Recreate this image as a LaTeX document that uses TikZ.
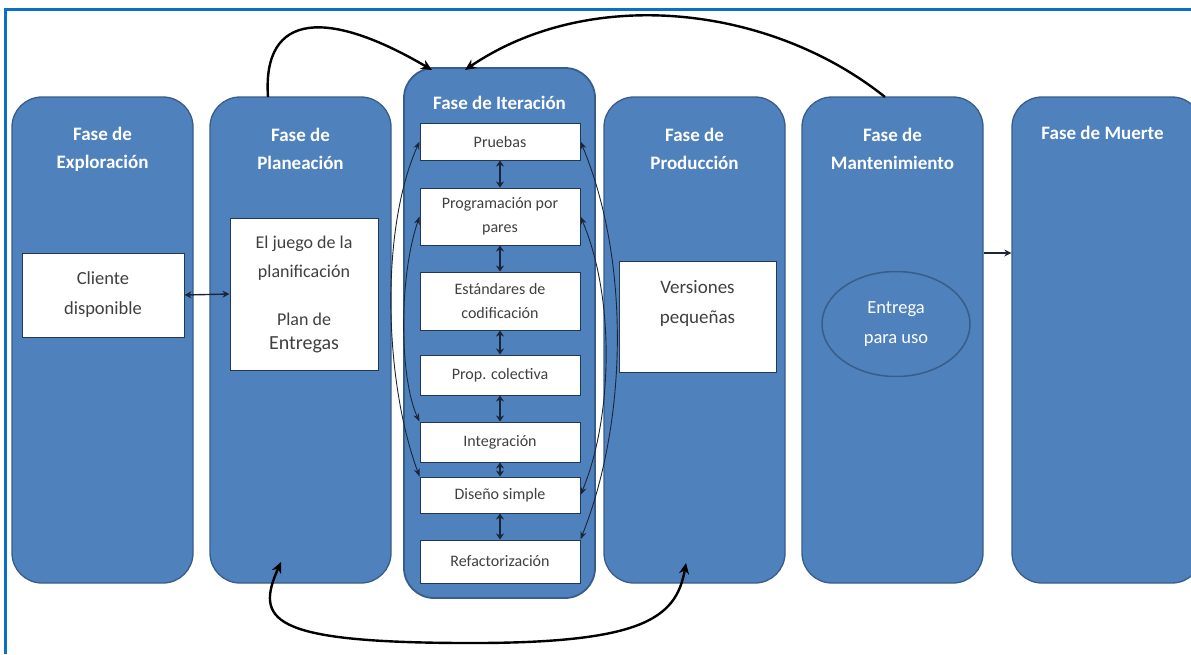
\documentclass[tikz,border=0pt]{standalone}
\usepackage{fontspec}
\setmainfont{Carlito}
\usepackage{xcolor}
\usetikzlibrary{arrows.meta,positioning,shapes.geometric}
\definecolor{faseazul}{HTML}{4F81BD}
\definecolor{fasebord}{HTML}{385D8A}
\definecolor{marcoazul}{HTML}{0A70C4}
\definecolor{textogris}{HTML}{404040}
\definecolor{flechaosc}{HTML}{1B2538}

\begin{document}
\begin{tikzpicture}[x=1pt,y=-1pt,
    fase/.style={draw=fasebord,fill=faseazul,line width=1.3pt,rounded corners=30pt,inner sep=0pt},
    titulo/.style={text=white,align=center,font=\fontsize{19}{28}\selectfont\bfseries},
    caja/.style={draw=fasebord!60!black,fill=white,line width=1pt,inner sep=0pt,text=textogris,align=center},
    iterbox/.style={caja,minimum width=160pt,font=\fontsize{16}{24}\selectfont},
    flechita/.style={flechaosc,line width=1.3pt,{Stealth[length=6pt,width=8pt]}-{Stealth[length=6pt,width=8pt]}},
    lado/.style={flechaosc,line width=0.9pt,{Stealth[length=8pt,width=6pt]}-{Stealth[length=8pt,width=6pt]}},
    grande/.style={black,line width=2.4pt,-{Stealth[length=11pt,width=10pt]}}]
  \useasboundingbox (0,0) rectangle (1191,654);
  \draw[marcoazul,line width=3pt] (5,654) -- (5,9) -- (1191,9);

  % las fases
  \node[fase,minimum width=181pt,minimum height=486pt] (explo) at (102.5,340) {};
  \node[fase,minimum width=181pt,minimum height=486pt] (plan) at (300.5,340) {};
  \node[fase,minimum width=191pt,minimum height=530pt,line width=1.8pt] (iter) at (499.5,333) {};
  \node[fase,minimum width=181pt,minimum height=486pt] (prod) at (694.5,340) {};
  \node[fase,minimum width=181pt,minimum height=486pt] (mant) at (892.5,340) {};
  \node[fase,minimum width=190pt,minimum height=486pt] (muerte) at (1107,340) {};

  \node[titulo] (t-explo) at (102.5,149) {Fase de\\Exploración};
  \node[titulo] (t-plan) at (300.5,149) {Fase de\\Planeación};
  \node[titulo] (t-iter) at (499.5,103) {Fase de Iteración};
  \node[titulo] (t-prod) at (694.5,149) {Fase de\\Producción};
  \node[titulo] (t-mant) at (892.5,149) {Fase de\\Mantenimiento};
  \node[titulo] (t-muerte) at (1102.5,133) {Fase de Muerte};

  % cajas blancas
  \node[caja,minimum width=162pt,minimum height=84pt,font=\fontsize{18.5}{30}\selectfont] (cliente) at (103,295) {Cliente\\disponible};
  \node[caja,minimum width=148pt,minimum height=152pt,font=\fontsize{18}{29}\selectfont] (juego) at (304,294)
    {El juego de la\\planificación\\[19pt]Plan de\\[-5pt]{\fontsize{20}{22}\selectfont Entregas}};
  \node[caja,minimum width=157pt,minimum height=111pt,font=\fontsize{19}{30}\selectfont,text depth=30pt] (versiones) at (697.5,316.5) {Versiones\\pequeñas};
  \node[ellipse,draw=fasebord,fill=faseazul,line width=1.5pt,minimum width=148pt,minimum height=105pt,
        text=white,align=center,font=\fontsize{18.5}{30}\selectfont] (entrega) at (896,324) {Entrega\\para uso};

  \node[iterbox,minimum height=37pt] (pruebas) at (500,141.5) {Pruebas};
  \node[iterbox,minimum height=57pt] (progra) at (500,216.5) {Programación por\\pares};
  \node[iterbox,minimum height=58pt] (estand) at (500,301) {Estándares de\\codificación};
  \node[iterbox,minimum height=40pt] (prop) at (500,375) {Prop. colectiva};
  \node[iterbox,minimum height=40pt] (integ) at (500,442) {Integración};
  \node[iterbox,minimum height=36pt] (diseno) at (500,495) {Diseño simple};
  \node[iterbox,minimum height=43pt] (refac) at (500,561.5) {Refactorización};

  \foreach \a/\b in {pruebas/progra,progra/estand,estand/prop,prop/integ,integ/diseno,diseno/refac}
    \draw[flechita] (\a.south) -- (\b.north);

  % flechas laterales de la iteracion
  \draw[lado] (pruebas.west) .. controls (380,230) and (384,380) .. (diseno.north west);
  \draw[lado] (progra.west) .. controls (398,280) and (400,380) .. (integ.north west);
  \draw[lado] (pruebas.east) .. controls (630,260) and (628,420) .. (refac.north east);
  \draw[lado] (progra.east) .. controls (616,300) and (612,420) .. (diseno.east);

  % flechas entre fases
  \coordinate (c-plan) at (268,97);
  \coordinate (c-mant) at (885,97);
  \draw[flechaosc,line width=1.4pt,{Stealth[length=7pt,width=7pt]}-{Stealth[length=7pt,width=7pt]}] (cliente.east) -- (juego.west);
  \draw[flechaosc,line width=1.4pt,-{Stealth[length=7pt,width=7pt]}] (mant.east |- 0,253) -- (muerte.west |- 0,253);
  \draw[grande] (c-plan) .. controls (262,10) and (330,10) .. (432,70);
  \draw[grande] (c-mant) .. controls (770,5) and (590,-15) .. (465,70);
  \draw[grande,{Stealth[length=11pt,width=10pt]}-{Stealth[length=11pt,width=10pt]}] (281,562) .. controls (255,620) and (270,642) .. (460,643) .. controls (640,644) and (676,620) .. (686,563);
\end{tikzpicture}
\end{document}
